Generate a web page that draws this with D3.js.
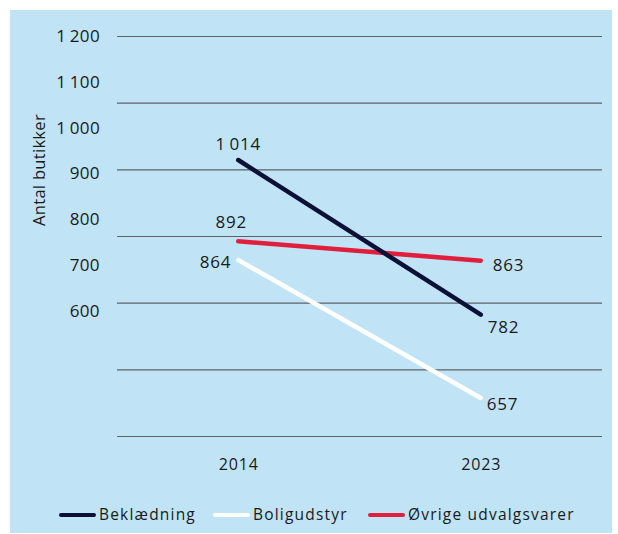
<!DOCTYPE html>
<html>
<head>
<meta charset="utf-8">
<script src="https://cdn.jsdelivr.net/npm/d3@7"></script>
<style>
  body { margin: 0; background: #fff; }
  text { font-family: "Open Sans", sans-serif; fill: #1a1a1a; }
</style>
</head>
<body>
<div id="chart"></div>
<script>
// data
var years = ["2014", "2023"];
var beklaedning = [1014, 782];
var boligudstyr = [864, 657];
var ovrige = [892, 863];
var gridTicks = [600, 700, 800, 900, 1000, 1100, 1200];
var labelTicks = [600, 700, 800, 900, 1000, 1100, 1200];
var seriesNames = ["Beklædning", "Boligudstyr", "Øvrige udvalgsvarer"];

var W = 618, H = 534;
var plot = {left: 117, right: 602, top: 36, bottom: 436};

var svg = d3.select("#chart")
  .append("svg")
    .attr("width", W)
    .attr("height", H);

// light blue panel
svg.append("rect")
  .attr("x", 10)
  .attr("y", 10)
  .attr("width", 602)
  .attr("height", 523)
  .attr("fill", "#c0e4f6");

var x = d3.scalePoint().domain(years).range([plot.left, plot.right]).padding(0.5);
var y = d3.scaleLinear().domain([600, 1200]).range([plot.bottom, plot.top]);
// the tick labels in the original sit on their own spacing, not on the gridlines
var yLab = d3.scaleLinear().domain([600, 1200]).range([311, 36]);

// thousands with a thin space, danish style
var fmt = function(v) { return d3.format(",")(v).replace(",", "\u2009"); };

// gridlines
svg.append("g")
  .attr("class", "grid")
  .attr("transform", "translate(" + plot.left + ",0)")
  .call(d3.axisRight(y).tickValues(gridTicks).tickSize(plot.right - plot.left).tickFormat(""))
  .call(function(g) { g.select(".domain").remove(); })
  .call(function(g) { g.selectAll("line").attr("stroke", "#5f6368").attr("stroke-width", 1.1); });

// y tick labels
svg.append("g")
  .attr("transform", "translate(100,0)")
  .call(d3.axisLeft(yLab).tickValues(labelTicks).tickSize(0).tickPadding(0).tickFormat(fmt))
  .call(function(g) { g.select(".domain").remove(); })
  .call(function(g) {
    g.selectAll("text")
      .attr("font-family", "Open Sans, sans-serif")
      .attr("font-size", "17px")
      .attr("letter-spacing", "0.4px")
      .style("fill", "#1a1a1a");
  });

// x axis labels
svg.append("g")
  .attr("transform", "translate(0," + plot.bottom + ")")
  .call(d3.axisBottom(x).tickSize(0).tickPadding(23))
  .call(function(g) { g.select(".domain").remove(); })
  .call(function(g) {
    g.selectAll("text")
      .attr("font-family", "Open Sans, sans-serif")
      .attr("font-size", "16px")
      .attr("letter-spacing", "0.8px")
      .style("fill", "#1a1a1a");
  });

// y axis title
svg.append("text")
  .attr("transform", "translate(45,170) rotate(-90)")
  .attr("text-anchor", "middle")
  .attr("font-size", "16.5px")
  .attr("letter-spacing", "0.3px")
  .text("Antal butikker");

var series = [
  {name: seriesNames[0], values: beklaedning, color: "#0b1036",
    labels: [{dx: 0, dy: -16, anchor: "middle"}, {dx: 7, dy: 12, anchor: "start"}]},
  {name: seriesNames[1], values: boligudstyr, color: "#ffffff",
    labels: [{dx: -7, dy: 2, anchor: "end"}, {dx: 6, dy: 6, anchor: "start"}]},
  {name: seriesNames[2], values: ovrige, color: "#e01f3d",
    labels: [{dx: -7, dy: -19, anchor: "middle"}, {dx: 12, dy: 4, anchor: "start"}]}
];

var line = d3.line()
  .x(function(d, i) { return x(years[i]); })
  .y(function(d) { return y(d); });

// draw white first, then red, then navy on top like the original
[series[1], series[2], series[0]].forEach(function(s) {
  svg.append("path")
    .datum(s.values)
    .attr("fill", "none")
    .attr("stroke", s.color)
    .attr("stroke-width", 4.5)
    .attr("stroke-linecap", "round")
    .attr("d", line);
});

series.forEach(function(s) {
  svg.append("g").selectAll("text")
    .data(s.values)
    .join("text")
      .attr("x", function(d, i) { return x(years[i]) + s.labels[i].dx; })
      .attr("y", function(d, i) { return y(d) + s.labels[i].dy; })
      .attr("dy", "0.35em")
      .attr("text-anchor", function(d, i) { return s.labels[i].anchor; })
      .attr("font-size", "17px")
      .attr("letter-spacing", "0.8px")
      .text(fmt);
});

// legend
var legendX = [59, 213, 368];
var legend = svg.append("g").attr("transform", "translate(0,515)");
series.forEach(function(s, i) {
  var item = legend.append("g").attr("transform", "translate(" + legendX[i] + ",0)");
  item.append("line")
    .attr("x1", 2).attr("x2", 35)
    .attr("y1", 0).attr("y2", 0)
    .attr("stroke", s.color)
    .attr("stroke-width", 4)
    .attr("stroke-linecap", "round");
  item.append("text")
    .attr("x", 40)
    .attr("dy", "0.35em")
    .attr("font-size", "15.5px")
    .attr("letter-spacing", "1.2px")
    .text(s.name);
});
</script>
</body>
</html>
